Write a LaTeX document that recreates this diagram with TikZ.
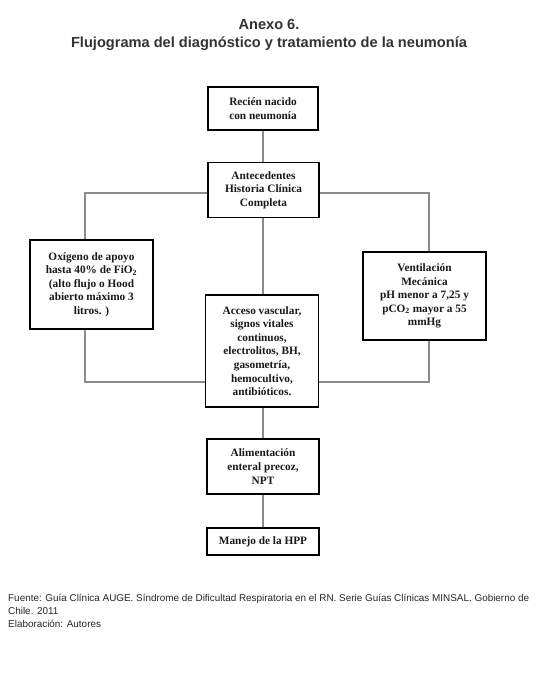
\documentclass[tikz,border=0pt]{standalone}
\usepackage{fontspec}
\setmainfont{Liberation Serif}
\newfontfamily\arialf{Liberation Sans}
\begin{document}
\begin{tikzpicture}[x=1pt,y=-1pt,
  box/.style={draw=black,line width=1.8pt,fill=white,align=center,inner sep=2pt,
    font=\fontsize{11.3}{13.6}\selectfont\bfseries,text=black!90},
  conn/.style={draw=black!45,line width=1.4pt}]
\useasboundingbox[fill=white] (0,0) rectangle (542,678);
\node[font=\arialf\bfseries\fontsize{14.6}{16}\selectfont,text=black!80] (t1) at (269,24) {Anexo 6.};
\node[font=\arialf\bfseries\fontsize{14.6}{16}\selectfont,text=black!80] (t2) at (269,44) {Flujograma del diagnóstico y tratamiento de la neumonía};
\coordinate (lt) at (85,193);
\coordinate (lb) at (85,382);
\coordinate (rt) at (429,193);
\coordinate (rb) at (429,382);
\draw[conn] (263,110) -- (263,190);
\draw[conn] (263,190) -- (263,350);
\draw[conn] (263,350) -- (263,541);
\draw[conn] (263,193) -- (lt) -- (85,284);
\draw[conn] (85,284) -- (lb) -- (262,382);
\draw[conn] (263,193) -- (rt) -- (429,296);
\draw[conn] (429,296) -- (rb) -- (262,382);
\node[box,minimum width=110pt,minimum height=43pt] (b1) at (263,108.5) {Recién nacido\\con neumonía};
\node[box,minimum width=111pt,minimum height=55pt] (b2) at (263.5,190) {Antecedentes\\Historia Clínica\\Completa};
\node[box,minimum width=123pt,minimum height=89pt] (bl) at (91.5,284.5) {Oxígeno de apoyo\\hasta 40\% de FiO\textsubscript{2}\\(alto flujo o Hood\\abierto máximo 3\\litros. )};
\node[box,minimum width=123pt,minimum height=88pt] (br) at (424.5,296) {Ventilación\\Mecánica\\pH menor a 7,25 y\\pCO\textsubscript{2} mayor a 55\\mmHg};
\node[box,minimum width=113pt,minimum height=112pt] (bc) at (262,351) {Acceso vascular,\\signos vitales\\continuos,\\electrolitos, BH,\\gasometría,\\hemocultivo,\\antibióticos.};
\node[box,minimum width=112pt,minimum height=55pt] (ba) at (263,466.5) {Alimentación\\enteral precoz,\\NPT};
\node[box,minimum width=112pt,minimum height=27pt] (bm) at (263,541.5) {Manejo de la HPP};
\node[anchor=north west,align=left,inner sep=0pt,font=\arialf\fontsize{9.9}{12.8}\selectfont,text=black!85] (f) at (8,594) {Fuente: Guía Clínica AUGE. Síndrome de Dificultad Respiratoria en el RN. Serie Guías Clínicas MINSAL. Gobierno de\\Chile. 2011\\Elaboración: Autores};
\end{tikzpicture}
\end{document}
